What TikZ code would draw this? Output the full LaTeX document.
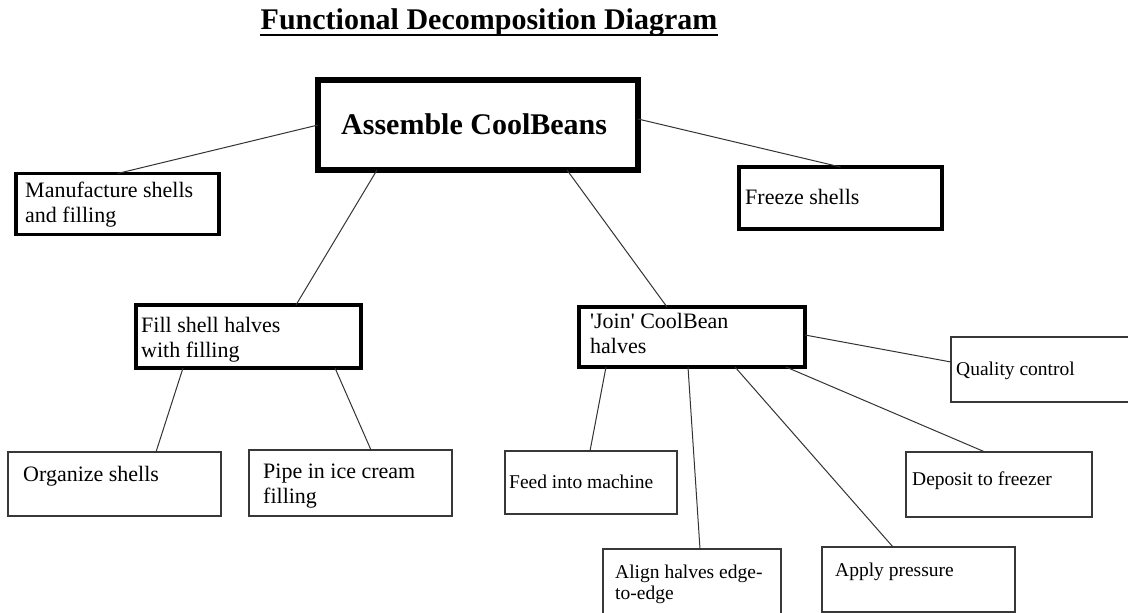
\documentclass[tikz,border=0pt]{standalone}
\usepackage{fontspec}
\setmainfont{Liberation Serif}
\newcommand{\lines}[1]{\begin{tabular}[t]{@{}l@{}}#1\end{tabular}}
\begin{document}
\begin{tikzpicture}[x=1pt,y=-1pt,
  box/.style={draw, rectangle, inner sep=0pt, outer sep=0pt},
  rootbox/.style={box, draw=black, line width=5.5pt},
  midbox/.style={box, draw=black, line width=3.5pt},
  thinbox/.style={box, draw=black!78, line width=1.4pt},
  big/.style={font=\fontsize{22}{25}\selectfont, anchor=base west, inner sep=0pt},
  small/.style={font=\fontsize{19.5}{21.5}\selectfont, anchor=base west, inner sep=0pt},
  link/.style={draw=black!80, line width=1pt}]
\useasboundingbox (0,0) rectangle (1128,613);
\clip (0,0) rectangle (1128,613);
\fill[white] (0,0) rectangle (1128,613);

% title
\node[font=\bfseries\fontsize{30}{34}\selectfont, anchor=base, inner sep=0pt] (title) at (489,30) {Functional Decomposition Diagram};
\draw[line width=2.8pt] ([yshift=-5pt]title.base west) -- ([yshift=-5pt]title.base east);

% boxes
\node[rootbox, minimum width=320pt, minimum height=90pt] (root) at (478,125) {};
\node[midbox, minimum width=203pt, minimum height=61pt] (man) at (117.5,204) {};
\node[midbox, minimum width=203pt, minimum height=62pt] (frz) at (840.5,198) {};
\node[midbox, minimum width=225pt, minimum height=63pt] (fill) at (248.5,336.5) {};
\node[midbox, minimum width=226pt, minimum height=60pt] (join) at (692,337) {};
\node[thinbox, minimum width=213pt, minimum height=64pt] (org) at (114.5,484) {};
\node[thinbox, minimum width=203pt, minimum height=66pt] (pipe) at (350.5,483) {};
\node[thinbox, minimum width=189pt, minimum height=65pt] (qual) at (1045.5,369.5) {};
\node[thinbox, minimum width=172pt, minimum height=63pt] (feed) at (591,482.5) {};
\node[thinbox, minimum width=178pt, minimum height=76pt] (align) at (692,587) {};
\node[thinbox, minimum width=193pt, minimum height=65pt] (apply) at (918.5,579.5) {};
\node[thinbox, minimum width=186pt, minimum height=65pt] (dep) at (999,484.5) {};

% texts
\node[font=\bfseries\fontsize{30}{34}\selectfont, anchor=base west, inner sep=0pt] (roott) at (341,134) {Assemble CoolBeans};
\node[big] (mant) at (25,197) {\lines{Manufacture shells\\and filling}};
\node[big] (frzt) at (745,204) {Freeze shells};
\node[big] (fillt) at (141,332) {\lines{Fill shell halves\\with filling}};
\node[big] (joint) at (590,328) {\lines{\textquotesingle Join\textquotesingle{} CoolBean\\halves}};
\node[big] (orgt) at (23,481) {Organize shells};
\node[big] (pipet) at (263,478) {\lines{Pipe in ice cream\\filling}};
\node[small] (qualt) at (956,375) {Quality control};
\node[small] (feedt) at (509,488) {Feed into machine};
\node[small] (alignt) at (615,578) {\lines{Align halves edge-\\to-edge}};
\node[small] (applyt) at (835,576) {Apply pressure};
\node[small] (dept) at (912,485) {Deposit to freezer};

% connectors
\draw[link] (root.west) -- (man.north);
\draw[link] ([yshift=6pt]root.east) -- (frz.north);
\draw[link] ([xshift=-101pt]root.south) -- ([xshift=47.5pt]fill.north);
\draw[link] ([xshift=89pt]root.south) -- ([xshift=-25pt]join.north);
\draw[link] ([xshift=-65.5pt]fill.south) -- ([xshift=41.5pt]org.north);
\draw[link] ([xshift=86.5pt]fill.south) -- ([xshift=20.5pt]pipe.north);
\draw[link] ([yshift=2pt]join.east) -- ([yshift=7.5pt]qual.west);
\draw[link] ([xshift=-86pt]join.south) -- ([xshift=-1pt]feed.north);
\draw[link] ([xshift=-4pt]join.south) -- ([xshift=8pt]align.north);
\draw[link] ([xshift=43pt]join.south) -- ([xshift=-25.5pt]apply.north);
\draw[link] ([xshift=94pt]join.south) -- ([xshift=-14pt]dep.north);
\end{tikzpicture}
\end{document}
